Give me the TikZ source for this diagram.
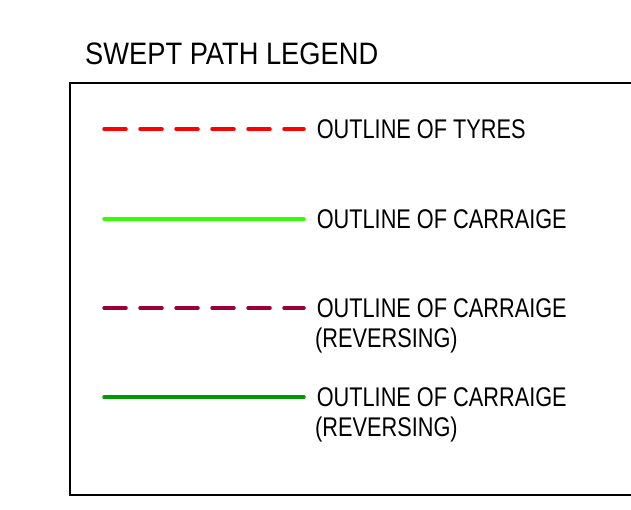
\documentclass[tikz,border=0pt]{standalone}
\usepackage{fontspec}
\setmainfont{Liberation Sans}[FakeStretch=0.805]
\newfontfamily\titlefont{Liberation Sans}[FakeStretch=0.88]
\usepackage{tikz}
\usetikzlibrary{positioning}

\definecolor{tyrered}{RGB}{255,0,0}
\definecolor{carrgreen}{RGB}{51,255,0}
\definecolor{revred}{RGB}{153,0,51}
\definecolor{revgreen}{RGB}{0,153,0}

\tikzset{
	legline/.style={line width=3.5pt, line cap=round},
	legdash/.style={legline, dash pattern=on 22pt off 14pt},
	leglabel/.style={right, inner sep=0pt, xshift=11pt, font=\fontsize{27}{31}\selectfont},
	legsub/.style={inner sep=0pt, font=\fontsize{27}{31}\selectfont},
	boxline/.style={line width=2pt, draw=black}
}

\begin{document}
\begin{tikzpicture}[x=1pt, y=-1pt]
				\useasboundingbox (0,0) rectangle (631,510);
				\node [anchor=base west, inner sep=0pt, font=\titlefont\fontsize{31}{36}\selectfont] (title) at (85,65) {SWEPT PATH LEGEND};
				\draw [boxline] (640,83) -- (70,83) -- (70,495) -- (640,495);
				% legend samples
				\draw [legdash	, draw=tyrered] (104,129) -- (304,129) 	node [leglabel] (tyres) {OUTLINE OF TYRES};
				\draw [legline	, draw=carrgreen] (104,219) -- (304,219) 	node [leglabel] (carr) {OUTLINE OF CARRAIGE};
				\draw [legdash	, draw=revred] (104,308) -- (304,308) 	node [leglabel] (revA) {OUTLINE OF CARRAIGE};
				\draw [legline	, draw=revgreen] (104,397) -- (304,397) 	node [leglabel] (revB) {OUTLINE OF CARRAIGE};
				\node [legsub, below=30pt of revA.base west, anchor=base west] (revAsub) {(REVERSING)};
				\node [legsub, below=30pt of revB.base west, anchor=base west] (revBsub) {(REVERSING)};
				\end{tikzpicture}
\end{document}
